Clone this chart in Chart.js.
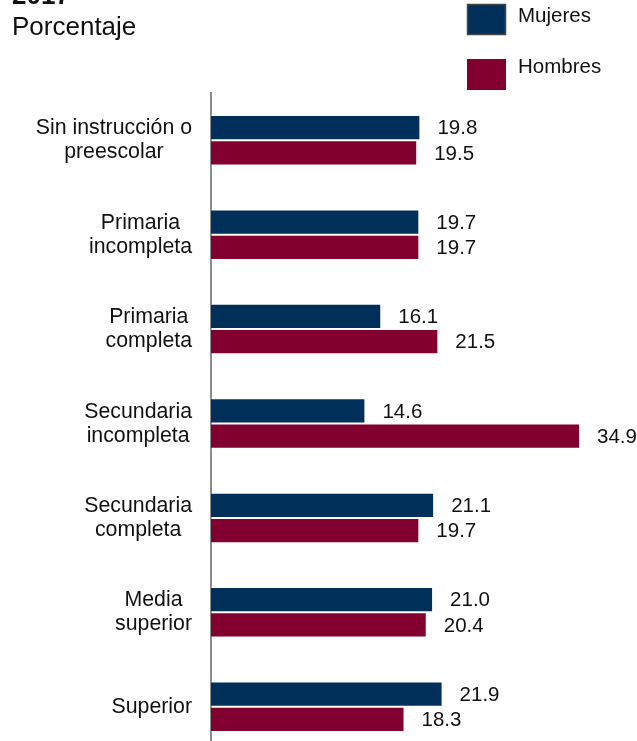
<!DOCTYPE html>
<html>
<head>
<meta charset="utf-8">
<script src="https://cdn.jsdelivr.net/npm/chart.js@4/dist/chart.umd.min.js"></script>
<style>
  html, body { margin: 0; padding: 0; background: #fff; overflow: hidden; }
  #wrap { position: absolute; left: 0; top: 0; width: 637px; height: 760px; }
</style>
</head>
<body>
<div id="wrap"><canvas id="c" width="637" height="760"></canvas></div>
<script>
const categories = [
  ["Sin instrucción o", "preescolar"],
  ["Primaria", "incompleta"],
  ["Primaria", "completa"],
  ["Secundaria", "incompleta"],
  ["Secundaria", "completa"],
  ["Media", "superior"],
  ["Superior"]
];
const mujeres = [19.8, 19.7, 16.1, 14.6, 21.1, 21.0, 21.9];
const hombres = [19.5, 19.7, 21.5, 34.9, 19.7, 20.4, 18.3];
const seriesNames = ["Mujeres", "Hombres"];
const titleText = "2017";
const subtitleText = "Porcentaje";

const NAVY = "#00305a";
const MAROON = "#820030";
const FONT = "'Liberation Sans', Arial, sans-serif";

const decorPlugin = {
  id: "decor",
  afterDatasetsDraw(chart) {
    const ctx = chart.ctx;
    ctx.save();
    ctx.fillStyle = "#111";
    ctx.textAlign = "left";
    ctx.textBaseline = "alphabetic";
    ctx.font = "bold 26px " + FONT;
    ctx.fillText(titleText, 12, 4);
    ctx.font = "26px " + FONT;
    ctx.fillText(subtitleText, 12, 35);

    const y = chart.scales.y;
    ctx.font = "21.3px " + FONT;
    ctx.textAlign = "center";
    categories.forEach((lines, i) => {
      const cy = y.getPixelForValue(i);
      const widest = Math.max(...lines.map(l => ctx.measureText(l).width));
      const cx = 192 - widest / 2;
      const first = cy - (lines.length - 1) * 12 + 6;
      lines.forEach((l, k) => ctx.fillText(l, cx, first + k * 24));
    });

    ctx.font = "20.5px " + FONT;
    ctx.textAlign = "left";
    ctx.textBaseline = "middle";
    chart.data.datasets.forEach((ds, di) => {
      const meta = chart.getDatasetMeta(di);
      meta.data.forEach((bar, i) => {
        ctx.fillText(ds.data[i].toFixed(1), bar.x + 17, bar.y + 1);
      });
    });

    const ds = chart.data.datasets;
    ctx.fillStyle = ds[0].backgroundColor;
    ctx.fillRect(467, 4, 39, 31);
    ctx.strokeStyle = "#444";
    ctx.lineWidth = 1.5;
    ctx.strokeRect(467.5, 4.5, 38, 30);
    ctx.fillStyle = ds[1].backgroundColor;
    ctx.fillRect(467, 59, 39, 31);
    ctx.fillStyle = "#111";
    ctx.font = "20.5px " + FONT;
    ctx.textBaseline = "alphabetic";
    ctx.fillText(ds[0].label, 518, 22);
    ctx.fillText(ds[1].label, 518, 73);
    ctx.restore();
  }
};

new Chart(document.getElementById("c"), {
  type: "bar",
  data: {
    labels: categories,
    datasets: [
      { label: seriesNames[0], data: mujeres, backgroundColor: NAVY,
        borderColor: "rgba(255,255,255,0.3)", borderWidth: 1, borderSkipped: "start" },
      { label: seriesNames[1], data: hombres, backgroundColor: MAROON,
        borderColor: "rgba(255,255,255,0.3)", borderWidth: 1, borderSkipped: "start" }
    ]
  },
  options: {
    indexAxis: "y",
    responsive: false,
    animation: false,
    devicePixelRatio: 1,
    layout: { padding: { left: 0, right: 3, top: 93, bottom: 6 } },
    datasets: { bar: { categoryPercentage: 0.535, barPercentage: 1.0 } },
    plugins: { legend: { display: false }, tooltip: { enabled: false } },
    scales: {
      x: { display: false, min: 0, max: 40 },
      y: {
        afterFit(scale) { scale.width = 211; },
        grid: { display: false, drawTicks: false },
        border: { display: true, color: "#8c8c8c", width: 2 },
        ticks: { display: false }
      }
    }
  },
  plugins: [decorPlugin]
});
</script>
</body>
</html>
